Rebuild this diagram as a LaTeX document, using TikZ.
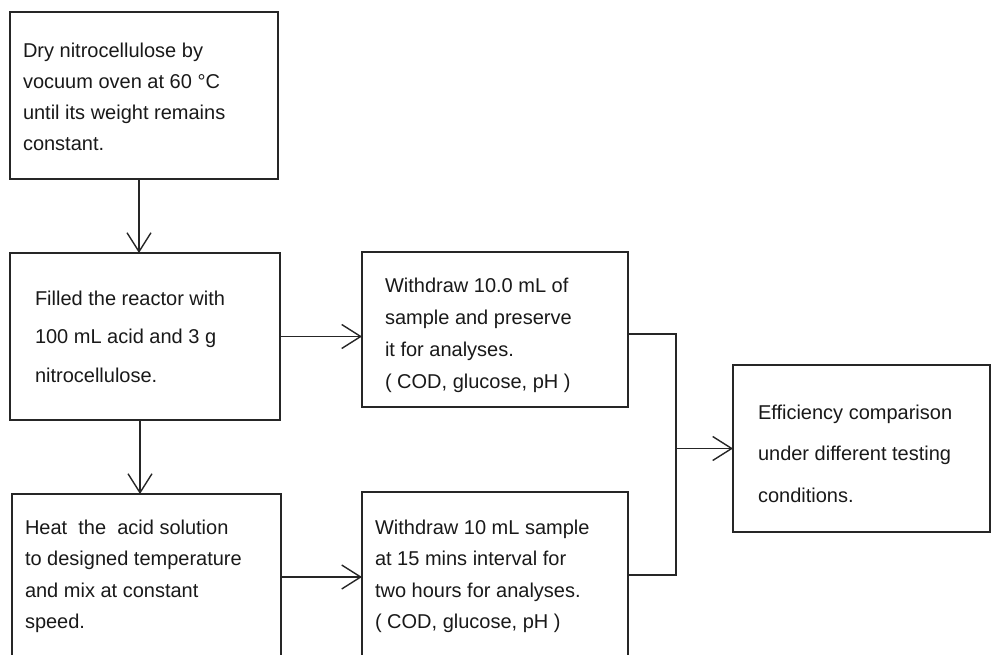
\documentclass[tikz,border=0pt]{standalone}
\usepackage{fontspec}
\setmainfont{Liberation Sans}
\usetikzlibrary{arrows.meta,calc}
\begin{document}
\begin{tikzpicture}[x=1pt,y=-1pt,
  box/.style={draw=black!85,line width=1.1pt,inner sep=0pt,outer sep=0pt,anchor=north west},
  txt/.style={inner sep=0pt,outer sep=0pt,align=left,anchor=north west,text=black!90},
  arr/.style={draw=black!85,line width=1.1pt,-{Straight Barb[length=19pt,width=24pt,line width=1.4pt]}},
  con/.style={draw=black!85,line width=1.1pt}]
\useasboundingbox (0,0) rectangle (992,655);
\clip (0,0) rectangle (992,655);
% boxes
\node[box,minimum width=268pt,minimum height=167pt] (b1) at (10,12) {};
\node[box,minimum width=270pt,minimum height=167pt] (b2) at (10,253) {};
\node[box,minimum width=269pt,minimum height=200pt] (b3) at (12,494) {};
\node[box,minimum width=266pt,minimum height=155pt] (b4) at (362,252) {};
\node[box,minimum width=266pt,minimum height=200pt] (b5) at (362,492) {};
\node[box,minimum width=257pt,minimum height=167pt] (b6) at (733,365) {};
% texts
\node[txt,font=\fontsize{20}{31}\selectfont] (t1) at (23,43)
  {Dry nitrocellulose by\\vocuum oven at 60 °C\\until its weight remains\\constant.};
\node[txt,font=\fontsize{20}{38.5}\selectfont] (t2) at (35,291)
  {Filled the reactor with\\100 mL acid and 3 g\\nitrocellulose.};
\node[txt,font=\fontsize{20}{31.3}\selectfont] (t3) at (25,520)
  {Heat~ the~ acid solution\\to designed temperature\\and mix at constant\\speed.};
\node[txt,font=\fontsize{20}{32}\selectfont] (t4) at (385,278)
  {Withdraw 10.0 mL of\\sample and preserve\\it for analyses.\\( COD, glucose, pH )};
\node[txt,font=\fontsize{20}{31.3}\selectfont] (t5) at (375,520)
  {Withdraw 10 mL sample\\at 15 mins interval for\\two hours for analyses.\\( COD, glucose, pH )};
\node[txt,font=\fontsize{20}{41.5}\selectfont] (t6) at (758,405)
  {Efficiency comparison\\under different testing\\conditions.};
% connectors
\draw[arr] ([xshift=-5pt]b1.south) -- ([xshift=-5pt]b1.south |- b2.north);
\draw[arr] ([xshift=-5pt]b2.south) -- ([xshift=-5pt]b2.south |- b3.north);
\draw[arr] (b2.east) -- (b2.east -| b4.west);
\coordinate (la) at ($(b3.north east)+(0,83)$);
\draw[arr] (la) -- (la -| b5.west);
\coordinate (jt) at ($(b4.north east)+(48,82)$);
\coordinate (jb) at ($(b5.north east)+(48,83)$);
\draw[con] (b4.east |- jt) -- (jt) -- (jb) -- (jb -| b5.east);
\draw[arr] (jt |- b6.west) -- (b6.west);
\end{tikzpicture}
\end{document}
